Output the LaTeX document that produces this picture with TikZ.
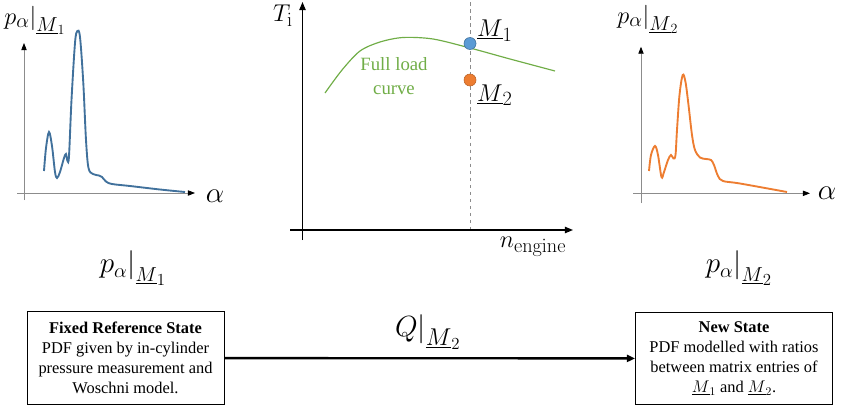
\documentclass[tikz,border=0pt]{standalone}
\usepackage[no-math]{fontspec}
\setmainfont{Liberation Serif}
\usepackage{tikz}
\usetikzlibrary{arrows.meta,positioning}
\definecolor{pdfblue}{HTML}{41719C}
\definecolor{pdforange}{HTML}{ED7D31}
\definecolor{loadgreen}{HTML}{70AD47}
\definecolor{dotblue}{HTML}{5B9BD5}
\definecolor{axisgray}{HTML}{8C8C8C}
% larger subscripts, as in the drawing
\DeclareMathSizes{20}{20}{16}{12}
\DeclareMathSizes{22}{22}{17}{13}
\DeclareMathSizes{24}{24}{18.5}{14}
\DeclareMathSizes{26}{26}{20}{15}

\begin{document}
\begin{tikzpicture}[
  x=0.3mm, y=-0.3mm,
  sideAxis/.style ={axisgray, line width=0.7pt, -{Triangle[length=6pt,width=4.5pt,color=black]}},
  mainAxis/.style ={black, line width=1.1pt, -{Triangle[length=7pt,width=5.5pt]}},
  pdfCurve/.style ={line width=1.6pt, smooth, tension=0.55},
  stateBox/.style ={draw, line width=0.7pt, align=center, minimum width=5.91cm,
                    minimum height=2.77cm, inner sep=2pt, font=\fontsize{14}{17.2}\selectfont},
  opDot/.style    ={circle, minimum size=3.6mm, inner sep=0pt, line width=0.5pt},
  mathLbl/.style  ={inner sep=0pt, font=\fontsize{22}{26}\selectfont},
  topLbl/.style   ={inner sep=0pt, font=\fontsize{20}{24}\selectfont},
  bigLbl/.style   ={inner sep=0pt, font=\fontsize{24}{28}\selectfont},
]
\useasboundingbox (0,0) rectangle (843,407);

% left pdf at M1
\draw[sideAxis] (17,193) -- (195,193);
\draw[sideAxis] (24,200) -- (24,43);
\draw[pdfblue, pdfCurve] plot coordinates {(44,171) (46,148) (49,132) (52,146) (55,172)
  (57,178) (60,172) (64,158) (66,154) (67.5,161) (69,156) (71.5,100) (75,43) (77.3,31)
  (80,37) (83.3,83) (86,140) (88.5,168) (93,174) (99,175.5) (102,177) (106,181.5)
  (112,184) (130,186) (160,189.5) (185,192)};
\node[topLbl] (pdfTopA) at (35,20) {$p_\alpha\big|_{\underline{M}_1}$};
\node[inner sep=0pt, font=\fontsize{26}{30}\selectfont] (alphaA) at (215,196) {$\alpha$};
\node[bigLbl] (pdfBotA) at (133,268) {$p_\alpha\Big|_{\underline{M}_1}$};

% right pdf at M2
\draw[sideAxis] (633,193.3) -- (810,193.3);
\draw[sideAxis] (641,203) -- (641,46.7);
\draw[pdforange, pdfCurve] plot coordinates {(649,171) (651,155) (655,146) (658,155)
  (661.5,177) (664,172) (668,160) (671,155) (673.5,158.5) (675.5,155) (677,130)
  (679.5,95) (682.7,75) (685.5,82) (688.5,105) (692,135) (695,150) (700,157.5)
  (706,159) (711,160) (714,165) (718,176) (723,181) (740,183.5) (787,192)};
\node[topLbl] (pdfTopB) at (648,19) {$p_\alpha\big|_{\underline{M}_2}$};
\node[inner sep=0pt, font=\fontsize{26}{30}\selectfont] (alphaB) at (827,193) {$\alpha$};
\node[bigLbl] (pdfBotB) at (739,268) {$p_\alpha\Big|_{\underline{M}_2}$};

% operating map
\draw[axisgray, line width=0.5pt, dashed] (470,2) -- (470,230);
\draw[mainAxis] (290,230) -- (573,230);
\draw[mainAxis] (302.5,240) -- (302.5,2);
\node[mathLbl] (tiLbl) at (283,16) {$T_\mathrm{i}$};
\node[mathLbl] (nLbl) at (533,247) {$n_\mathrm{engine}$};
\draw[loadgreen, line width=1pt, smooth] plot coordinates {(325,93) (342,70) (360,51)
  (380,42) (403,37.5) (433,39) (470,48) (510,59) (555,71)};
\node[loadgreen, align=center, font=\fontsize{16}{21}\selectfont] (loadLbl) at (394,76) {Full load\\curve};
\node[opDot, fill=dotblue, draw=pdfblue] (m1dot) at (470,43.5) {};
\node[opDot, fill=pdforange, draw=pdforange!80!black] (m2dot) at (470,80) {};
\node[mathLbl, above right=-2pt and 2pt of m1dot] (m1Lbl) {$\underline{M}_1$};
\node[mathLbl, below right=0pt and 2pt of m2dot] (m2Lbl) {$\underline{M}_2$};

% states and transfer
\node[stateBox] (refBox) at (125.5,358) {\textbf{Fixed Reference State}\\PDF given by in-cylinder\\pressure measurement and\\Woschni model.};
\node[stateBox] (newBox) at (734,358.5) {\textbf{New State}\\PDF modelled with ratios\\between matrix entries of\\$\underline{M}_1$ and $\underline{M}_2$.};
\draw[line width=2pt, -{Triangle[length=7pt,width=6pt]}] (refBox) -- (newBox);
\node[inner sep=0pt, font=\fontsize{26}{30}\selectfont] (qLbl) at (428,332) {$Q\Big|_{\underline{M}_2}$};
\end{tikzpicture}
\end{document}
